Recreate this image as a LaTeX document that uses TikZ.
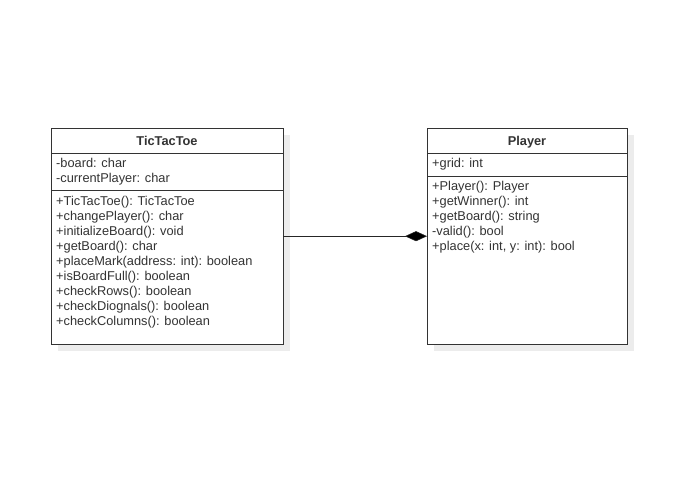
\documentclass[tikz,border=0pt]{standalone}
\usepackage{fontspec}
\setmainfont{Liberation Sans}
\usetikzlibrary{arrows.meta}
\definecolor{ink}{HTML}{333333}
\definecolor{shade}{HTML}{ECECEC}
\begin{document}
\begin{tikzpicture}[x=1pt,y=-1pt,
  classbox/.style={draw=ink,line width=0.9pt,fill=white,inner sep=0pt,outer sep=0pt},
  shadowbox/.style={fill=shade,draw=none},
  member/.style={anchor=base west,inner sep=0pt,text=ink,font=\fontsize{12.8}{15}\selectfont},
  title/.style={anchor=base,inner sep=0pt,text=ink,font=\fontsize{12.8}{15}\selectfont\bfseries},
  sep/.style={draw=ink,line width=0.9pt},
  composition/.style={draw=black!85,line width=1.4pt,-{Diamond[length=22pt,width=10pt,fill=black,line width=0.5pt]}}]
\useasboundingbox[fill=white] (0,0) rectangle (692,503);

% drop shadows
\fill[shadowbox] (58,135) rectangle (290,351);
\fill[shadowbox] (434,135) rectangle (634,351);

% TicTacToe class
\draw[classbox] (51,128) rectangle (283,344);
\node[draw=none,minimum width=232pt,minimum height=216pt,anchor=north west,inner sep=0pt] (ttt) at (51,128) {};
\draw[sep] (51,153) -- (283,153);
\draw[sep] (51,190) -- (283,190);
\node[title] (tttname) at (167,145) {TicTacToe};
\node[member] (ta1) at (56,167) {-board: char};
\node[member] (ta2) at (56,182) {-currentPlayer: char};
\node[member] (tm1) at (56,205) {+TicTacToe(): TicTacToe};
\node[member] (tm2) at (56,220) {+changePlayer(): char};
\node[member] (tm3) at (56,235) {+initializeBoard(): void};
\node[member] (tm4) at (56,250) {+getBoard(): char};
\node[member] (tm5) at (56,265) {+placeMark(address: int): boolean};
\node[member] (tm6) at (56,280) {+isBoardFull(): boolean};
\node[member] (tm7) at (56,295) {+checkRows(): boolean};
\node[member] (tm8) at (56,310) {+checkDiognals(): boolean};
\node[member] (tm9) at (56,325) {+checkColumns(): boolean};

% Player class
\draw[classbox] (427,128) rectangle (627,344);
\node[draw=none,minimum width=200pt,minimum height=216pt,anchor=north west,inner sep=0pt] (pl) at (427,128) {};
\draw[sep] (427,153) -- (627,153);
\draw[sep] (427,176) -- (627,176);
\node[title] (plname) at (527,145) {Player};
\node[member] (pa1) at (432,167) {+grid: int};
\node[member] (pm1) at (432,190) {+Player(): Player};
\node[member] (pm2) at (432,205) {+getWinner(): int};
\node[member] (pm3) at (432,220) {+getBoard(): string};
\node[member] (pm4) at (432,235) {-valid(): bool};
\node[member] (pm5) at (432,250) {+place(x: int, y: int): bool};

% composition
\draw[composition] (ttt.east) -- (pl.west);
\end{tikzpicture}
\end{document}
